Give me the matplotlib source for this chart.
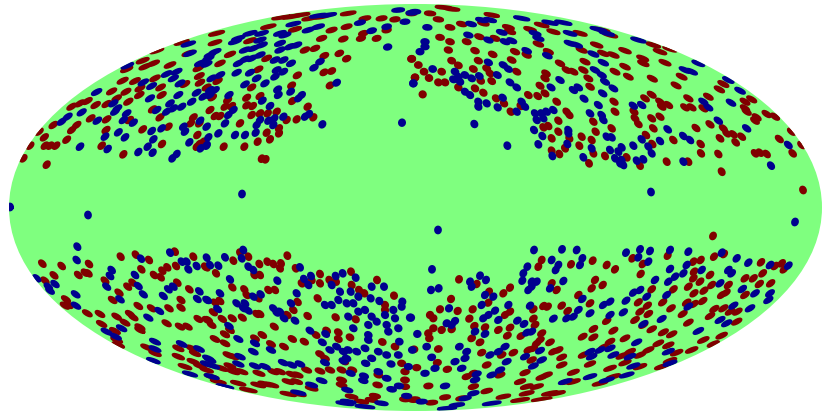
"""All-sky map of point sources in Mollweide projection."""

import matplotlib

matplotlib.use("Agg")
import matplotlib.pyplot as plt
import numpy as np
from matplotlib.collections import PolyCollection

# map readings per sector: (origin x, origin y) and points at 1/3 unit steps
nw_origin = (0, 0)
nw_red = [(70,475),(140,494),(90,437),(117,395),(133,412),(160,375),(135,437),(150,437),(168,437),(200,419),(215,390),(230,375),(272,355),(305,437),(318,390),(320,358),(370,463),(428,388),(388,360),(486,432),(505,380),(480,352),(458,328),(215,320),(240,310),(262,303),(287,315),(320,312),(335,274),(368,242),(405,243),(378,275),(350,295),(385,305),(420,265),(418,285),(465,235),(482,262),(485,285),(555,252),(600,248),(598,228),(595,205),(510,195),(435,200),(460,190),(428,182),(380,208),(470,152),(545,127),(565,160),(598,370),(580,352),(572,370),(592,405),(598,432),(590,440),(610,425)]
nw_blue = [(185,365),(203,350),(245,337),(290,276),(292,362),(340,310),(352,325),(345,335),(380,340),(370,360),(400,368),(355,397),(375,412),(315,410),(323,447),(240,440),(415,456),(458,458),(443,440),(460,418),(455,393),(485,385),(517,475),(530,462),(568,427),(550,380),(555,395),(600,362),(602,445),(620,435),(382,197),(430,247),(455,258),(450,295),(470,330),(520,235),(530,215),(500,222),(540,250),(590,278),(535,285),(510,310),(520,325),(545,320),(575,305),(610,290),(630,270),(565,132),(570,160),(600,190),(625,175),(500,335)]

nc_origin = (205, 0)
nc_red = [(315,55),(260,50),(230,52),(285,45),(350,50),(430,40),(480,55),(530,55),(570,58),(620,40),(425,80),(380,90),(270,88),(190,80),(35,100),(30,128),(135,122),(350,115),(415,117),(475,100),(468,115),(515,115),(545,90),(300,150),(330,145),(358,167),(403,160),(425,176),(75,163),(45,190),(185,175),(620,177),(357,217),(380,213),(277,226),(375,256),(160,208),(38,243),(140,262),(260,256),(262,303),(308,320),(325,352),(275,358),(245,360),(215,335),(188,340),(165,288),(125,293),(68,300),(22,292),(15,330),(60,320),(80,318),(125,316),(143,318),(165,340),(140,345),(30,348),(45,348),(105,370),(185,398),(222,385),(222,400),(195,418),(158,425),(118,440),(56,440),(170,476),(182,478),(5,262),(630,232)]
nc_blue = [(580,30),(620,38),(600,65),(545,80),(465,68),(500,92),(340,80),(310,90),(370,45),(340,47),(265,72),(100,115),(135,100),(170,100),(225,100),(240,105),(90,125),(165,120),(120,150),(145,145),(170,135),(225,130),(255,140),(275,135),(225,150),(30,155),(15,165),(120,178),(100,190),(140,175),(165,165),(5,192),(210,180),(235,180),(258,190),(345,185),(327,203),(548,141),(395,248),(95,218),(45,225),(20,235),(135,218),(155,235),(180,250),(120,253),(215,210),(235,215),(210,230),(257,275),(218,268),(220,285),(290,285),(280,295),(30,270),(15,285),(72,285),(172,302),(195,318),(85,330),(70,345),(60,370),(208,355),(205,375),(165,360),(155,375),(190,362),(235,350),(300,350),(312,342),(352,373),(5,380),(40,400),(90,405),(120,405),(152,398),(10,412),(5,437),(591,368),(625,250)]

ne_origin = (410, 0)
ne_red = [(100,22),(125,27),(60,40),(85,58),(120,82),(155,72),(220,70),(245,45),(295,82),(300,95),(360,88),(395,75),(430,95),(90,112),(120,125),(170,125),(208,110),(255,115),(115,150),(195,152),(248,163),(315,155),(350,165),(385,132),(415,155),(305,180),(125,182),(145,196),(205,182),(190,207),(230,205),(240,220),(245,243),(212,242),(5,176),(25,195),(42,215),(95,215),(15,233),(57,234),(85,247),(105,247),(38,283),(145,262),(195,265),(220,278),(320,215),(390,257),(405,280),(355,285),(383,288),(258,295),(282,310),(302,335),(332,318),(440,305),(408,220),(405,235),(450,190),(470,210),(490,215),(520,210),(525,185),(535,235),(540,260),(515,150),(580,160),(610,165),(560,135),(510,100),(575,90),(600,105),(470,335),(478,345),(445,362),(415,378),(400,382),(445,395),(425,415),(478,415),(515,410),(557,395),(550,365),(605,385),(545,420),(585,468),(508,437),(465,445),(448,462),(425,452),(550,460),(537,490),(612,305),(615,335),(615,215)]
ne_blue = [(15,35),(52,82),(183,72),(240,60),(215,60),(335,55),(460,68),(420,68),(480,100),(565,88),(590,100),(175,105),(275,97),(375,100),(385,115),(235,120),(285,125),(305,122),(480,130),(500,135),(550,162),(580,188),(45,125),(45,140),(30,155),(350,152),(412,167),(235,187),(280,195),(295,207),(68,207),(135,215),(262,225),(145,230),(130,238),(165,225),(185,235),(208,228),(150,245),(10,250),(300,247),(320,262),(450,240),(423,262),(490,270),(505,262),(522,296),(555,210),(575,225),(585,245),(610,265),(578,280),(165,275),(180,285),(205,305),(230,310),(205,320),(263,322),(278,293),(335,305),(345,320),(320,335),(375,340),(395,340),(410,335),(380,360),(400,355),(430,330),(193,372),(372,390),(397,408),(475,390),(475,400),(385,433),(292,437),(472,432),(427,468),(520,472),(565,315),(540,340),(575,345),(580,360),(590,410),(605,412),(545,445),(600,450),(615,475),(625,455),(630,490)]

fe_origin = (620, 0)
fe_red = [(15,152),(68,175),(70,190),(135,188),(15,200),(25,230),(97,236),(185,230),(168,256),(95,284),(75,295),(205,295),(298,268),(310,252),(265,290),(195,322),(215,322),(120,305),(145,315),(125,320),(250,325),(375,305),(375,325),(380,335),(395,298),(410,352),(405,362),(440,342),(465,350),(42,335),(45,355),(95,355),(120,350),(100,385),(55,372),(228,384),(270,373),(310,385),(320,400),(300,415),(340,403),(365,410),(347,427),(160,420),(78,405),(97,432),(242,432),(243,460),(295,462),(405,460),(420,458),(440,462),(478,417),(515,395),(518,460),(545,435),(20,472),(60,497),(140,485),(205,485),(305,515),(120,155),(150,147),(100,135)]
fe_blue = [(55,120),(235,190),(195,210),(215,215),(325,240),(360,272),(333,308),(250,305),(265,322),(40,317),(65,315),(295,362),(380,385),(143,388),(190,408),(210,420),(120,423),(65,418),(40,437),(85,440),(95,460),(5,442),(50,482),(70,478),(5,480),(10,495),(190,485),(505,435),(453,497)]

sw_origin = (0, 240)
sw_red = [(127,71),(185,78),(162,106),(135,122),(267,72),(235,105),(255,98),(265,100),(362,50),(407,44),(447,60),(424,88),(502,82),(487,92),(528,78),(525,35),(580,50),(462,105),(482,112),(615,80),(315,122),(398,128),(383,140),(357,158),(338,180),(198,178),(195,197),(205,195),(262,220),(300,222),(305,252),(350,230),(375,248),(390,222),(400,232),(415,198),(420,262),(420,270),(345,273),(350,300),(355,315),(455,205),(507,205),(543,180),(543,203),(568,148),(532,128),(500,250),(595,237),(620,240),(540,260),(563,260),(465,340),(440,322),(535,325),(575,325),(585,340),(535,350),(580,365),(600,378),(555,380),(620,390)]
sw_blue = [(232,20),(230,60),(110,115),(165,132),(145,140),(150,152),(335,90),(330,108),(320,140),(405,105),(423,56),(510,38),(560,65),(545,65),(565,88),(590,78),(620,53),(415,138),(430,163),(360,178),(227,163),(228,197),(490,168),(505,148),(520,140),(598,154),(592,177),(620,180),(478,213),(445,233),(365,265),(320,275),(347,290),(465,305),(465,327),(545,312),(597,327),(460,362),(570,402),(625,355),(620,372)]

sc_origin = (205, 240)
sc_red = [(105,38),(130,50),(85,62),(5,82),(33,100),(163,72),(187,65),(205,72),(228,70),(225,85),(247,47),(272,85),(148,105),(165,105),(82,142),(118,148),(125,165),(45,183),(30,188),(160,175),(190,150),(210,150),(25,217),(155,222),(165,222),(10,240),(20,255),(52,237),(82,235),(112,233),(75,270),(60,283),(30,297),(60,310),(150,295),(172,285),(262,297),(298,305),(198,312),(237,320),(278,186),(265,210),(247,225),(208,260),(308,228),(338,175),(345,102),(345,130),(373,120),(393,125),(438,95),(440,135),(462,150),(478,160),(516,120),(567,167),(540,195),(540,210),(290,130),(320,120),(365,272),(400,277),(435,292),(400,297),(333,285),(452,238),(392,232),(532,306),(570,320),(345,342),(360,355),(418,365),(442,390),(375,390),(410,390),(345,393),(260,403),(278,405),(225,395),(205,395),(305,390),(162,400),(410,420),(410,435),(250,425),(275,425),(320,445),(180,432),(160,435),(200,435),(70,345),(85,350),(50,385),(85,395),(110,395),(75,378),(20,410),(40,425),(100,430),(130,450),(250,462),(280,462),(440,470),(470,485),(510,468),(518,435),(600,395),(600,420),(600,440),(590,370),(600,478),(520,405),(500,480),(625,480)]
sc_blue = [(115,30),(60,52),(110,55),(130,80),(145,90),(40,77),(15,75),(75,118),(217,122),(167,163),(145,170),(45,160),(285,82),(297,117),(318,108),(310,135),(275,160),(380,135),(392,108),(413,100),(452,113),(405,155),(437,155),(500,140),(537,140),(497,175),(523,183),(592,185),(590,200),(615,233),(460,170),(445,190),(425,190),(400,180),(380,195),(360,195),(460,215),(430,230),(480,210),(500,230),(515,245),(490,255),(445,265),(490,285),(490,300),(540,225),(565,210),(570,235),(545,255),(550,275),(580,265),(583,305),(8,180),(38,207),(95,190),(120,190),(115,205),(130,212),(72,258),(100,297),(145,335),(150,310),(198,330),(258,190),(205,205),(225,215),(215,218),(237,235),(270,242),(315,272),(362,282),(352,307),(375,330),(395,320),(415,335),(430,330),(455,335),(480,325),(520,335),(545,345),(580,345),(622,330),(425,355),(482,370),(500,355),(558,372),(610,380),(360,368),(415,363),(520,395),(545,415),(582,438),(560,448),(437,400),(475,422),(477,408),(350,422),(427,450),(105,350),(100,372),(150,378),(180,380),(235,368),(260,375),(285,372),(15,360),(25,378),(60,440),(20,410),(280,458),(320,435),(605,468),(430,485),(530,490),(480,500),(420,490)]

se_origin = (410, 240)
se_red = [(147,118),(200,132),(300,143),(280,160),(237,155),(235,188),(123,177),(90,208),(143,213),(188,208),(60,225),(70,235),(178,236),(300,215),(285,225),(370,236),(375,255),(395,60),(385,80),(483,73),(548,62),(590,75),(615,88),(555,120),(545,145),(578,135),(505,165),(540,190),(425,130),(440,150),(370,208),(400,198),(413,200),(455,197),(473,213),(590,243),(70,265),(55,280),(58,295),(95,270),(125,268),(193,258),(225,262),(265,270),(300,263),(292,287),(333,288),(185,295),(210,307),(395,280),(390,300),(380,310),(420,307),(355,330),(370,325),(550,267),(518,290),(550,292),(610,272),(12,328),(85,327),(215,338),(275,345),(310,338),(82,368),(20,383),(112,388),(230,375),(445,330),(430,335),(455,352),(365,360),(455,375),(345,398),(490,397),(540,372),(600,385),(190,400),(170,410),(270,405),(410,405),(395,412),(330,425),(350,440),(380,440),(470,425),(490,425),(190,440),(55,438),(230,453),(105,472),(155,475),(280,470),(350,460),(420,460),(440,460),(330,480),(395,478),(15,478),(65,488),(580,322),(600,305),(520,345),(610,410),(570,430)]
se_blue = [(372,30),(456,28),(500,30),(425,60),(517,55),(510,75),(445,75),(437,90),(352,80),(340,100),(337,122),(365,125),(380,125),(355,150),(365,140),(460,123),(420,145),(66,88),(63,150),(86,145),(180,125),(185,140),(210,107),(228,120),(225,165),(250,170),(215,195),(295,195),(360,197),(117,205),(255,212),(235,225),(220,235),(265,240),(322,242),(342,252),(430,236),(470,235),(490,230),(505,210),(540,220),(517,177),(600,185),(580,195),(600,225),(110,250),(135,243),(125,255),(3,233),(22,282),(195,275),(225,282),(350,278),(365,275),(50,320),(148,320),(170,335),(165,355),(285,320),(265,335),(240,345),(390,332),(345,350),(65,352),(135,365),(155,385),(45,400),(75,385),(290,365),(270,390),(245,405),(395,360),(370,378),(105,438),(200,402),(195,420),(540,335),(570,330),(600,325),(545,350),(610,345),(465,425),(540,410),(590,420),(190,460),(165,475),(35,485),(140,495),(110,505),(245,490)]

fw_origin = (620, 240)
fw_red = [(37,55),(68,72),(143,47),(62,102),(220,65),(242,60),(282,50),(312,42),(222,95),(220,115),(240,125),(270,105),(275,135),(205,140),(222,160),(252,152),(325,135),(318,158),(305,165),(375,115),(400,115),(428,100),(418,132),(452,130),(375,165),(423,67),(465,78),(485,70),(492,88),(95,148),(160,148),(55,187),(128,187),(82,197),(153,205),(60,215),(85,222),(45,240),(200,188),(248,183),(222,192),(188,222),(283,207),(270,228),(310,205),(330,215),(352,215),(205,248),(350,245),(70,255),(95,268),(130,277),(155,283),(15,295),(115,310),(145,316),(250,300),(305,287),(85,330),(170,338),(215,330),(30,335),(5,348),(60,345),(15,368),(150,362),(125,380),(60,380),(280,312)]
fw_blue = [(18,38),(60,28),(55,52),(90,33),(150,30),(205,35),(305,38),(350,55),(385,68),(450,75),(505,77),(85,65),(150,87),(200,75),(245,90),(325,90),(335,100),(190,100),(165,110),(145,125),(105,120),(140,165),(60,150),(40,158),(18,182),(80,170),(367,147),(300,130),(405,160),(450,160),(445,180),(340,197),(390,205),(205,200),(10,217),(70,252),(125,237),(300,240),(320,250),(235,273),(50,307),(145,335),(30,350),(40,378),(20,405),(150,370)]

band_origin = (0, 0)
band_red = [(2409,570),(2139,708)]
band_blue = [(30,621),(264,645),(726,582),(1953,576),(2385,666),(1314,690)]

red_sectors = [(nw_origin, nw_red), (nc_origin, nc_red), (ne_origin, ne_red), (fe_origin, fe_red),
               (sw_origin, sw_red), (sc_origin, sc_red), (se_origin, se_red), (fw_origin, fw_red),
               (band_origin, band_red)]
blue_sectors = [(nw_origin, nw_blue), (nc_origin, nc_blue), (ne_origin, ne_blue), (fe_origin, fe_blue),
                (sw_origin, sw_blue), (sc_origin, sc_blue), (se_origin, se_blue), (fw_origin, fw_blue),
                (band_origin, band_blue)]

CENTER_X, CENTER_Y = 415.5, 207.5
HALF_W, HALF_H = 406.5, 203.5
DISC_RADIUS = 1.05  # degrees on the sky


def sky_positions(sectors, inverse):
    pts = []
    for (x0, y0), readings in sectors:
        arr = np.array(readings, dtype=float)
        px = x0 + arr[:, 0] / 3.0
        py = y0 + arr[:, 1] / 3.0
        plane_x = 2 * np.sqrt(2) * (px - CENTER_X) / HALF_W
        plane_y = np.sqrt(2) * np.clip((CENTER_Y - py) / HALF_H, -0.999, 0.999)
        pts.append(np.column_stack([plane_x, plane_y]))
    return inverse.transform(np.vstack(pts))


def disc_outlines(lonlat):
    r = np.radians(DISC_RADIUS)
    t = np.linspace(0, 2 * np.pi, 13)
    polys = []
    for lon, lat in lonlat:
        stretch = max(np.cos(lat), 0.04)
        v_lon = lon + r * np.cos(t) / stretch
        v_lat = np.clip(lat + r * np.sin(t), -1.565, 1.565)
        polys.append(np.column_stack([v_lon, v_lat]))
    return polys


fig = plt.figure(figsize=(8.3, 4.15), dpi=100)
ax = fig.add_axes(
    [(CENTER_X - HALF_W) / 830, (415 - CENTER_Y - HALF_H) / 415, 2 * HALF_W / 830, 2 * HALF_H / 415],
    projection="mollweide",
)
ax.set_aspect("auto")
ax.set_facecolor("#7fff7f")
ax.grid(False)
ax.set_xticklabels([])
ax.set_yticklabels([])
ax.spines["geo"].set_visible(False)

inverse = ax.transProjection.inverted()
for sectors, color in ((red_sectors, "#800000"), (blue_sectors, "#00008f")):
    polys = disc_outlines(sky_positions(sectors, inverse))
    ax.add_collection(
        PolyCollection(polys, facecolors=color, edgecolors=color, linewidths=2.2),
        autolim=False,
    )

fig.savefig("out.png", dpi=100, facecolor="white")
